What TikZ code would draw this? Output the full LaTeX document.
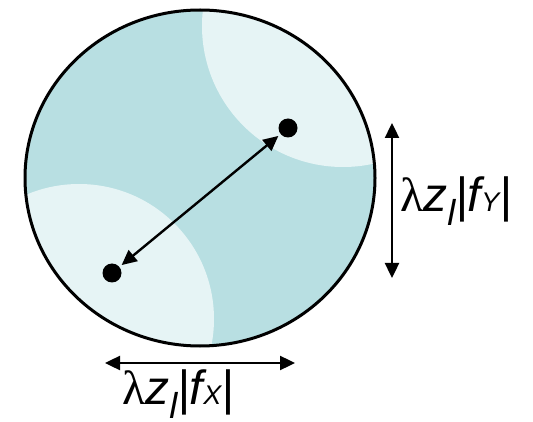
\documentclass[tikz,border=0pt]{standalone}
\usepackage{fontspec}
\setmainfont{Liberation Sans}
\newfontfamily\lamfont{Liberation Serif}
\usepackage{xcolor}
\usepackage{tikz}
\usetikzlibrary{arrows.meta}
\definecolor{pupteal}{HTML}{B8DFE2}
\definecolor{puplight}{HTML}{E6F4F5}
\newcommand{\freqlabel}[1]{{\upshape\lamfont λ}z\raisebox{-14pt}{\fontsize{36}{36}\selectfont l}|f{\fontsize{27}{27}\selectfont #1}|}

\begin{document}
\begin{tikzpicture}[x=1pt,y=-1pt,
  dot/.style={circle,fill=black,inner sep=0pt,minimum size=19pt,outer sep=3pt},
  dimarrow/.style={{Triangle[length=15pt,width=14pt]}-{Triangle[length=15pt,width=14pt]},line width=2.4pt},
  lab/.style={font=\fontsize{48}{54}\selectfont\itshape,inner sep=0pt}]
  \useasboundingbox (0,0) rectangle (533,422);
  % pupil with the two shifted copies
  \begin{scope}
    \clip (200,178) ellipse [x radius=175,y radius=168];
    \fill[pupteal] (200,178) ellipse [x radius=175,y radius=168];
    \fill[puplight] (343,26) circle [radius=141];
    \fill[puplight] (79,319) circle [radius=135];
  \end{scope}
  \draw[line width=3pt] (200,178) ellipse [x radius=175,y radius=168];
  \node[dot] (p1) at (288,128) {};
  \node[dot] (p2) at (112,273) {};
  \draw[dimarrow] (p1) -- (p2);
  % dimensions
  \coordinate (ytop) at (392,123);
  \coordinate (ybot) at (392,278);
  \draw[dimarrow] (ytop) -- (ybot);
  \node[lab,anchor=base west] (fy) at (400,212) {\freqlabel{Y}};
  \coordinate (xl) at (105,363);
  \coordinate (xr) at (295,363);
  \draw[dimarrow] (xl) -- (xr);
  \node[lab,anchor=base west] (fx) at (122,404) {\freqlabel{X}};
\end{tikzpicture}
\end{document}
